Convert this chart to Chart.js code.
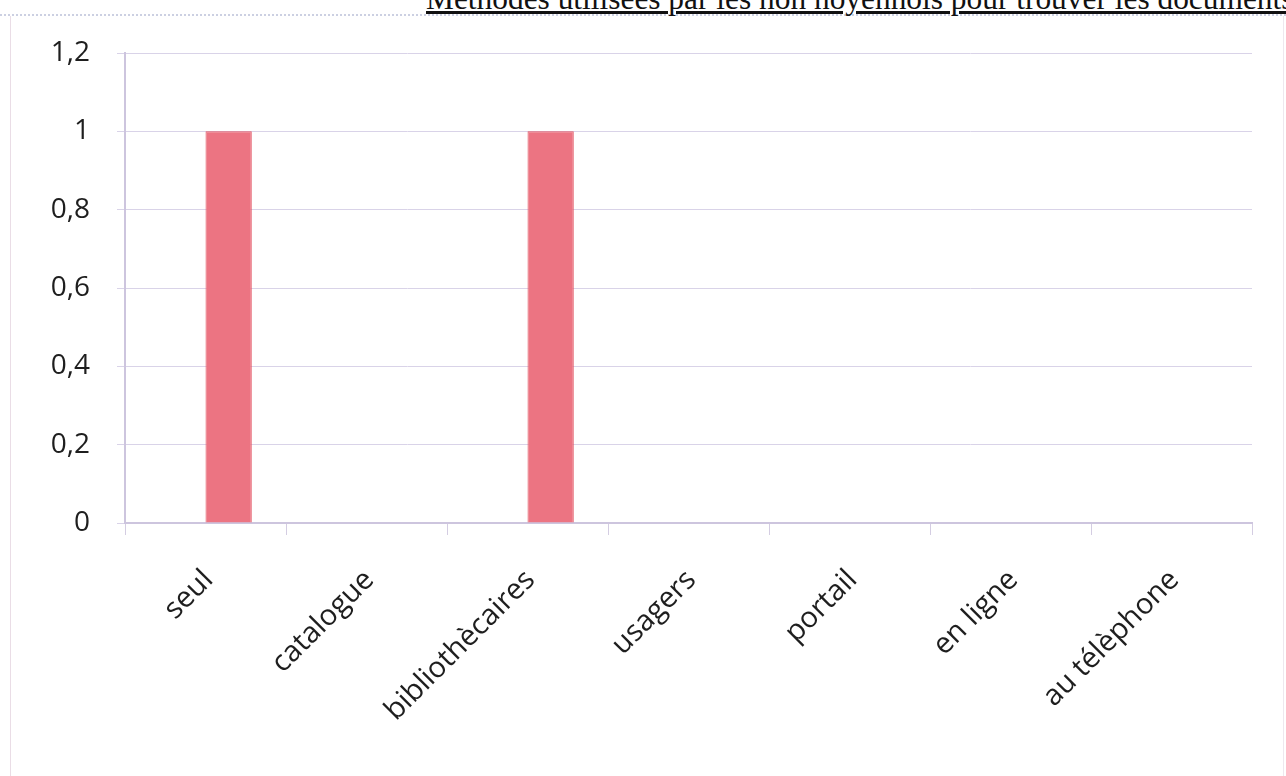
<!DOCTYPE html>
<html>
<head>
<meta charset="utf-8">
<script src="https://cdn.jsdelivr.net/npm/chart.js@4.4.1/dist/chart.umd.min.js"></script>
<style>
  html, body { margin: 0; padding: 0; background: #fff; overflow: hidden; }
  #page { position: relative; width: 1286px; height: 776px; }
  #ligne { position: absolute; left: 0; top: 14px; width: 1286px; border-top: 2px dotted #ccd0e2; }
  #frame {
    position: absolute; left: 10px; top: 16px; width: 1272px; height: 770px;
    border-left: 1px solid #eadde6; border-right: 1px solid #eee8ee;
  }
  #titre {
    position: absolute; left: 426px; top: -19px; white-space: nowrap;
    font-family: "Liberation Serif", "Times New Roman", serif; font-size: 31.4px;
    color: #111; text-decoration: underline; text-underline-offset: 2px;
  }
  canvas { position: absolute; left: 0; top: 0; }
</style>
</head>
<body>
<div id="page">
  <div id="ligne"></div>
  <div id="frame"></div>
  <div id="titre">Méthodes utilisées par les non noyennois pour trouver les documents</div>
  <canvas id="graph" width="1286" height="776"></canvas>
</div>
<script>
const categories = ['seul', 'catalogue', 'bibliothècaires', 'usagers', 'portail', 'en ligne', 'au télèphone'];
const serie1 = [0, 0, 0, 0, 0, 0, 0];
const serie2 = [1, 0, 1, 0, 0, 0, 0];
const yTicks = [0, 0.2, 0.4, 0.6, 0.8, 1, 1.2];

document.addEventListener("DOMContentLoaded", function() {
    const data = {
        labels: categories,
        datasets: [
            {
                label: 'Série 1',
                data: serie1,
                backgroundColor: '#7da0d8'
            },
            {
                label: 'Série 2',
                data: serie2,
                backgroundColor: '#ec7482',
                borderColor: '#e25866',
                borderWidth: 1
            }
        ]
    };

    const config = {
        type: 'bar',
        data: data,
        options: {
            responsive: false,
            animation: false,
            layout: {
                padding: { top: 53, right: 34, left: 0, bottom: 0 }
            },
            datasets: {
                bar: {
                    categoryPercentage: 0.575,
                    barPercentage: 1
                }
            },
            plugins: {
                legend: { display: false },
                tooltip: { enabled: false }
            },
            scales: {
                x: {
                    grid: {
                        offset: true,
                        drawOnChartArea: false,
                        drawTicks: true,
                        tickLength: 12,
                        color: '#d4cde2'
                    },
                    border: { color: '#cdc5de', width: 2 },
                    ticks: {
                        minRotation: 45,
                        maxRotation: 45,
                        padding: 28,
                        labelOffset: 3,
                        color: '#1e1e1e',
                        font: { family: 'Open Sans', size: 29 }
                    },
                    afterFit: function(scale) { scale.height = 253; }
                },
                y: {
                    min: 0,
                    max: 1.2,
                    afterBuildTicks: function(scale) {
                        scale.ticks = yTicks.map(v => ({ value: v }));
                    },
                    grid: {
                        color: '#d9d3e8',
                        lineWidth: 1,
                        tickLength: 8
                    },
                    border: { color: '#cdc5de', width: 2 },
                    ticks: {
                        padding: 27,
                        color: '#1e1e1e',
                        font: { family: 'Open Sans', size: 28 },
                        callback: function(v) { return String(Math.round(v * 10) / 10).replace('.', ','); }
                    },
                    afterFit: function(scale) { scale.width = 125; }
                }
            }
        }
    };

    new Chart(document.getElementById('graph'), config);
});
</script>
</body>
</html>
